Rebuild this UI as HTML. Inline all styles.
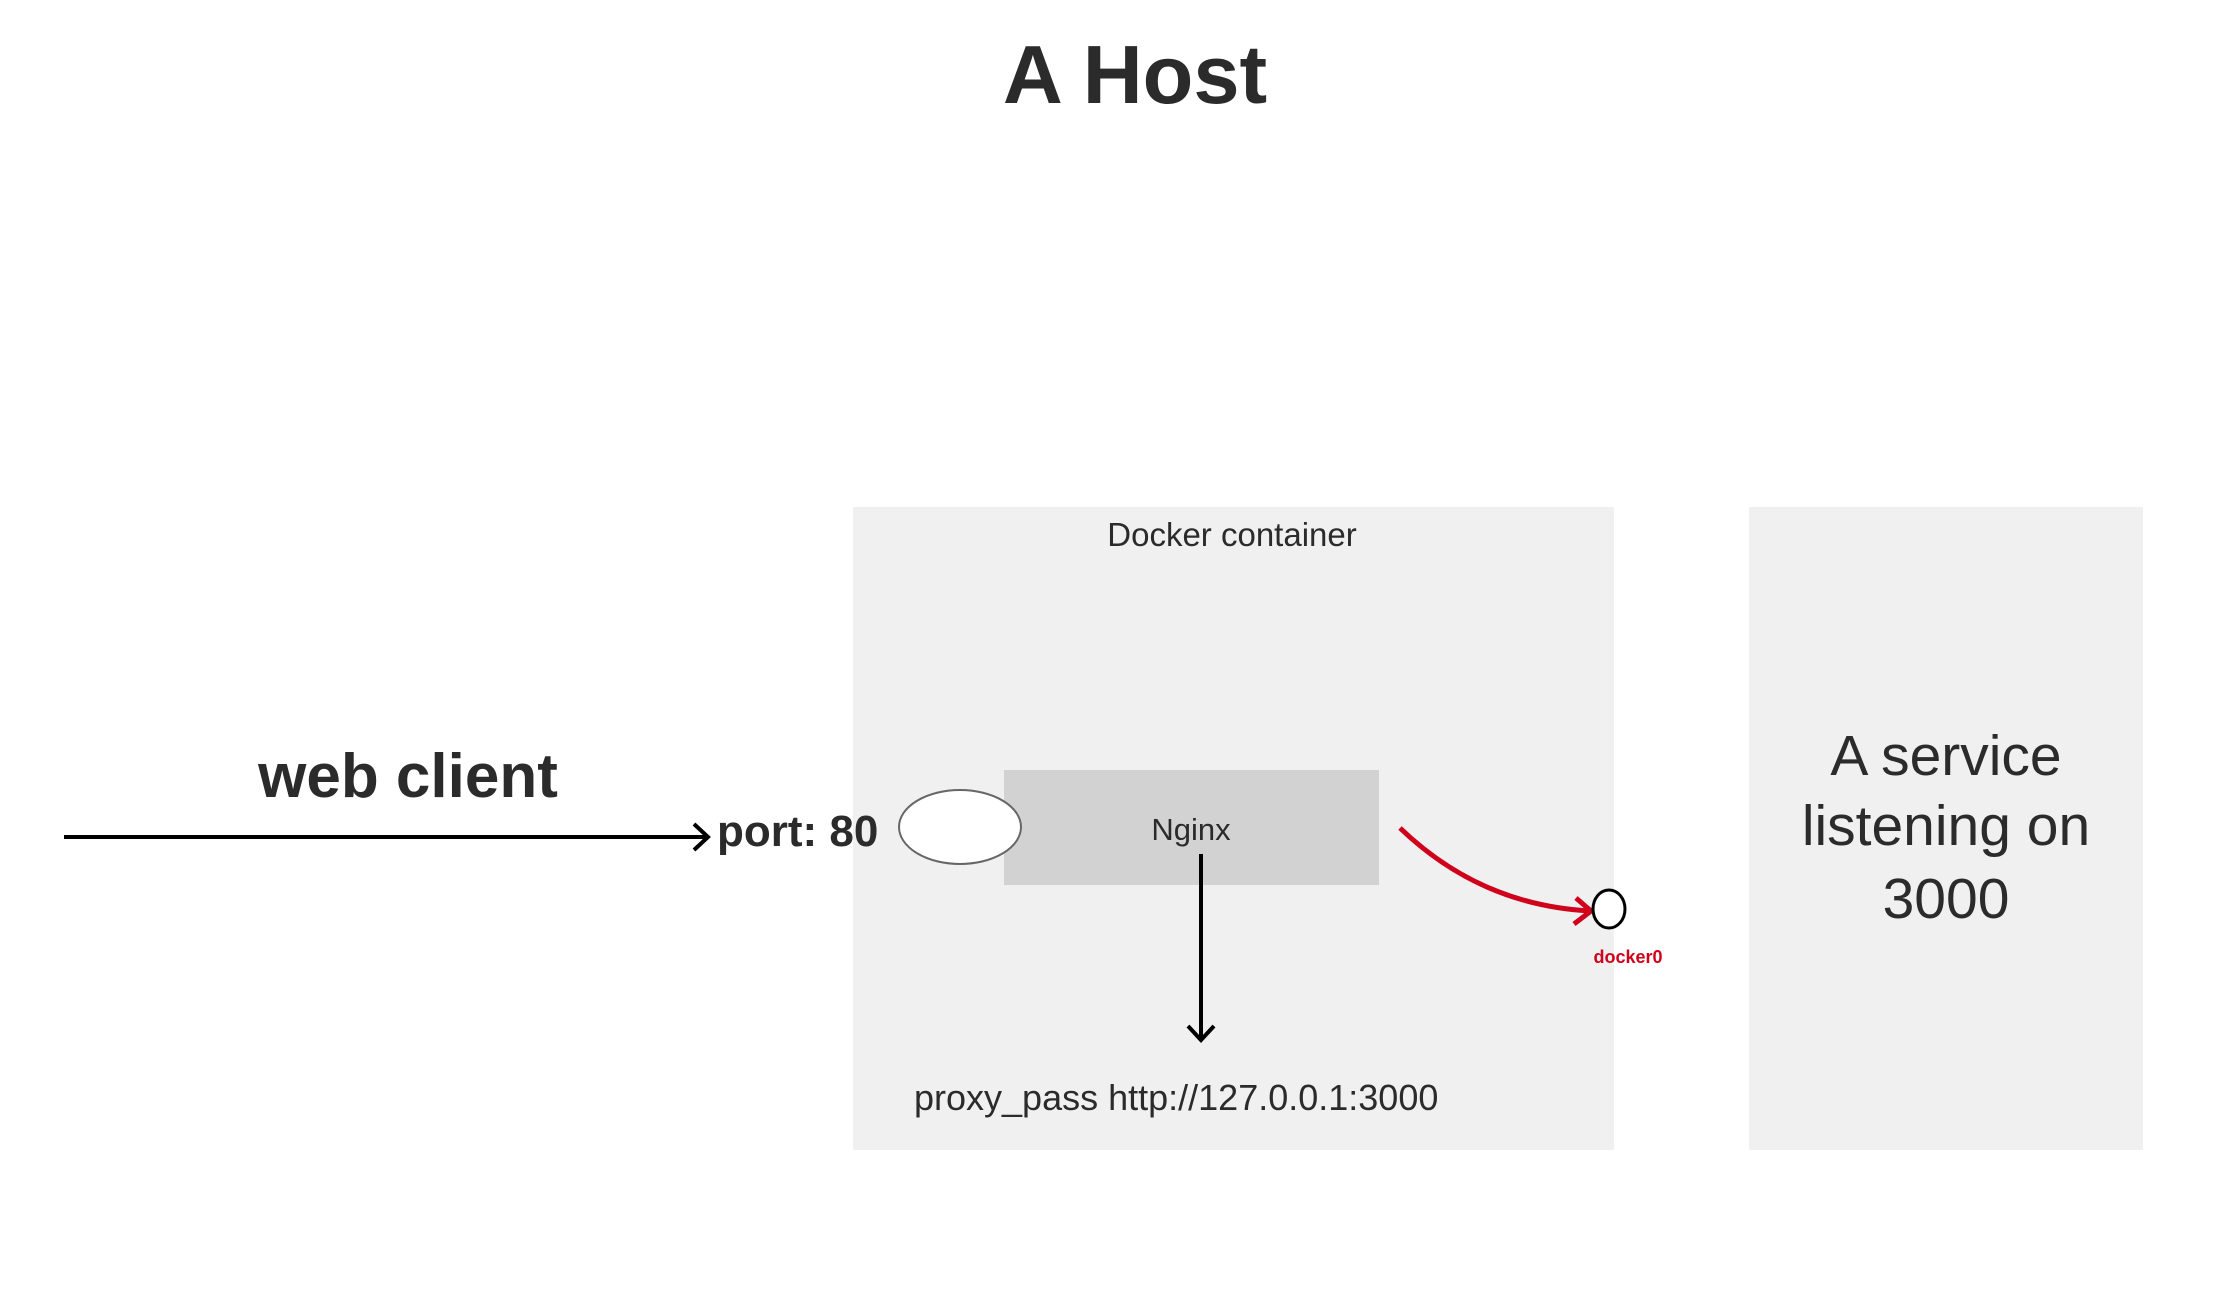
<!DOCTYPE html>
<html><head><meta charset="utf-8"><style>
html,body{margin:0;padding:0;background:#fff;}
svg{display:block;}
text{font-family:"Liberation Sans",Arial,sans-serif;fill:#2b2b2b;}
</style></head><body>
<svg width="2238" height="1304" viewBox="0 0 2238 1304" xmlns="http://www.w3.org/2000/svg">
<text x="1135" y="103" font-size="83" font-weight="bold" text-anchor="middle">A Host</text>
<rect x="853" y="507" width="761" height="643" fill="#f0f0f0"/>
<rect x="1749" y="507" width="394" height="643" fill="#f0f0f0"/>
<text x="1232" y="546" font-size="33" text-anchor="middle">Docker container</text>
<rect x="1004" y="770" width="375" height="115" fill="#d2d2d2"/>
<text x="1191" y="840" font-size="31" text-anchor="middle">Nginx</text>
<ellipse cx="960" cy="827" rx="61" ry="37" fill="#fff" stroke="#666" stroke-width="2"/>
<text x="408" y="797" font-size="62" font-weight="bold" text-anchor="middle">web client</text>
<line x1="64" y1="837" x2="706" y2="837" stroke="#000" stroke-width="4"/>
<polyline points="694,824 708,837 694,850" fill="none" stroke="#000" stroke-width="4"/>
<text x="717" y="846" font-size="44" font-weight="bold">port: 80</text>
<line x1="1201" y1="854" x2="1201" y2="1038" stroke="#000" stroke-width="4"/>
<polyline points="1188,1026 1201,1040 1214,1026" fill="none" stroke="#000" stroke-width="4"/>
<text x="914" y="1110" font-size="36">proxy_pass http://127.0.0.1:3000</text>
<path d="M1400,828 Q1480,905 1590,911" fill="none" stroke="#d0021b" stroke-width="5"/>
<polyline points="1576,898 1591,911 1574,924" fill="none" stroke="#d0021b" stroke-width="5"/>
<ellipse cx="1609" cy="909" rx="16" ry="19" fill="#fff" stroke="#000" stroke-width="3"/>
<text x="1628" y="963" font-size="18" font-weight="bold" text-anchor="middle" style="fill:#d0021b">docker0</text>
<text x="1946" y="775" font-size="57" text-anchor="middle">A service</text>
<text x="1946" y="845" font-size="57" text-anchor="middle">listening on</text>
<text x="1946" y="918" font-size="57" text-anchor="middle">3000</text>
</svg>
</body></html>
